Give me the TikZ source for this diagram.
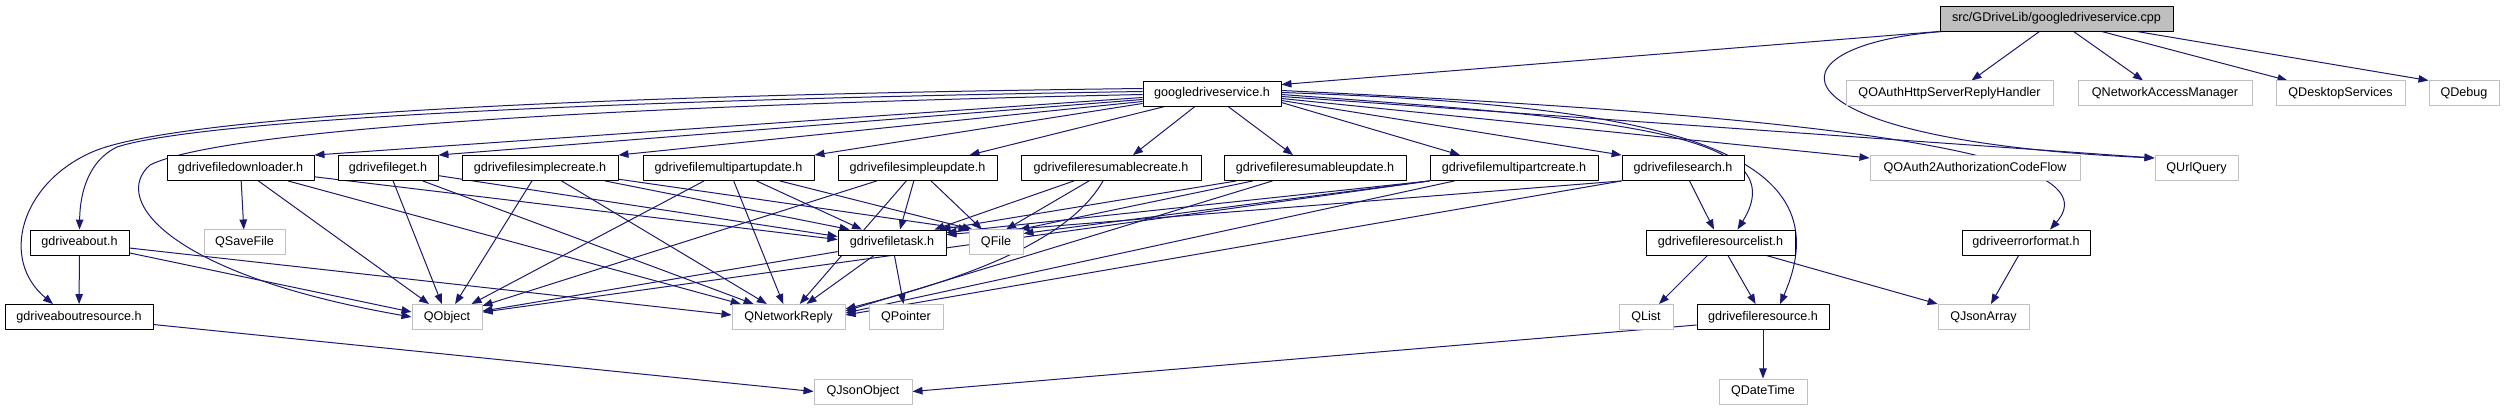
\documentclass[tikz,border=0pt]{standalone}
\usepackage{fontspec}
\setmainfont{Liberation Sans}
\usetikzlibrary{arrows.meta}
\definecolor{edgeblue}{RGB}{25,25,112}
\definecolor{boxgray}{RGB}{191,191,191}
\pgfdeclarelayer{edges}
\pgfsetlayers{edges,main}

\begin{document}
\begin{tikzpicture}[x=1pt, y=-1pt, line join=round,
  hdr/.style={draw=black, line width=0.9pt, fill=white, inner sep=0pt, minimum height=25pt, font=\fontsize{12.6}{15}\selectfont},
  ext/.style={hdr, draw=boxgray, line width=1pt},
  srcfile/.style={hdr, fill=boxgray},
  dep/.style={edgeblue, line width=1pt, -{Triangle[length=10pt,width=7.5pt]}}]

  %% ════ 第 0/1 行：源文件与直接包含 ════
  \node[srcfile, minimum width=233pt] (cpp) at (2056.5,18.5) {src/GDriveLib/googledriveservice.cpp};
  \node[hdr, minimum width=138pt] (gds) at (1212,93.5) {googledriveservice.h};
  \node[ext, minimum width=207pt] (qreplyhandler) at (1949.5,93.5) {QOAuthHttpServerReplyHandler};
  \node[ext, minimum width=174pt] (qnam) at (2165,93.5) {QNetworkAccessManager};
  \node[ext, minimum width=129pt] (qdesktop) at (2340.5,93.5) {QDesktopServices};
  \node[ext, minimum width=70pt] (qdebug) at (2464,93.5) {QDebug};

  %% ════ 第 2 行 ════
  \node[hdr, minimum width=147pt] (fdownloader) at (240.5,168) {gdrivefiledownloader.h};
  \node[hdr, minimum width=100pt] (fget) at (388,168) {gdrivefileget.h};
  \node[hdr, minimum width=156pt] (fscreate) at (540,168) {gdrivefilesimplecreate.h};
  \node[hdr, minimum width=171pt] (fmpupdate) at (728.5,168) {gdrivefilemultipartupdate.h};
  \node[hdr, minimum width=159pt] (fsupdate) at (917.5,168) {gdrivefilesimpleupdate.h};
  \node[hdr, minimum width=180pt] (frcreate) at (1111,168) {gdrivefileresumablecreate.h};
  \node[hdr, minimum width=182pt] (frupdate) at (1315,168) {gdrivefileresumableupdate.h};
  \node[hdr, minimum width=168pt] (fmpcreate) at (1514,168) {gdrivefilemultipartcreate.h};
  \node[hdr, minimum width=122pt] (fsearch) at (1683,168) {gdrivefilesearch.h};
  \node[ext, minimum width=210pt] (qoauthflow) at (1975,168) {QOAuth2AuthorizationCodeFlow};
  \node[ext, minimum width=83pt] (qurlquery) at (2196.5,168) {QUrlQuery};

  %% ════ 第 3 行 ════
  \node[hdr, minimum width=99pt] (about) at (79.5,242.5) {gdriveabout.h};
  \node[ext, minimum width=81pt] (qsavefile) at (244.5,242.5) {QSaveFile};
  \node[hdr, minimum width=108pt] (ftask) at (892,242.5) {gdrivefiletask.h};
  \node[ext, minimum width=54pt] (qfile) at (996,242.5) {QFile};
  \node[hdr, minimum width=149pt] (frlist) at (1720.5,242.5) {gdrivefileresourcelist.h};
  \node[hdr, minimum width=128pt] (errfmt) at (2026,242.5) {gdriveerrorformat.h};

  %% ════ 第 4/5 行 ════
  \node[hdr, minimum width=148pt] (aboutres) at (79,317) {gdriveaboutresource.h};
  \node[ext, minimum width=70pt] (qobject) at (447,317) {QObject};
  \node[ext, minimum width=113pt] (qnetreply) at (788.5,317) {QNetworkReply};
  \node[ext, minimum width=74pt] (qpointer) at (906,317) {QPointer};
  \node[ext, minimum width=54pt] (qlist) at (1646,317) {QList};
  \node[hdr, minimum width=132pt] (fres) at (1763,317) {gdrivefileresource.h};
  \node[ext, minimum width=91pt] (qjsonarray) at (1983.5,317) {QJsonArray};
  \node[ext, minimum width=98pt] (qjsonobject) at (863,391.5) {QJsonObject};
  \node[ext, minimum width=88pt] (qdatetime) at (1763,391.5) {QDateTime};

  %% 连线放在下层，框的白底压住穿过的线
  \begin{pgfonlayer}{edges}
  %% ════ 源文件的依赖 ════
  \draw[dep] (cpp.south west) -- ([yshift=-4pt]gds.north east);
  \draw[dep] ([xshift=-17pt]cpp.south) -- ([xshift=22pt]qreplyhandler.north);
  \draw[dep] ([xshift=17pt]cpp.south) -- ([xshift=-22pt]qnam.north);
  \draw[dep] ([xshift=45pt]cpp.south) -- ([xshift=-53pt]qdesktop.north);
  \draw[dep] ([xshift=80pt]cpp.south) -- (qdebug.north west);
  \draw[dep] ([xshift=4pt]cpp.south west) .. controls (1760,45) and (1760,140) .. ([yshift=10pt]qurlquery.west);

  %% ════ googledriveservice.h 的依赖（左侧三条绕行曲线）════
  \draw[dep] ([yshift=5pt]gds.west) .. controls (600,95) and (170,115) .. (90,153)
             .. controls (20,185) and (0,260) .. ([xshift=-26pt]aboutres.north);
  \draw[dep] ([yshift=2pt]gds.west) .. controls (600,100) and (200,120) .. (117,147)
             .. controls (90,160) and (80,190) .. (about.north);
  \draw[dep] ([yshift=-1pt]gds.west) .. controls (600,106) and (220,130) .. (150,165)
             .. controls (110,200) and (170,275) .. (qobject.west);
  \draw[dep] ([yshift=-4pt]gds.west) -- (fdownloader.north east);
  \draw[dep] ([yshift=-6pt]gds.west) -- (fget.north east);
  \draw[dep] ([yshift=-8pt]gds.west) -- (fscreate.north east);
  \draw[dep] ([yshift=-10pt]gds.west) -- (fmpupdate.north east);
  \draw[dep] ([xshift=-47pt]gds.south) -- ([xshift=52pt]fsupdate.north);
  \draw[dep] ([xshift=-17pt]gds.south) -- ([xshift=22pt]frcreate.north);
  \draw[dep] ([xshift=16pt]gds.south) -- ([xshift=-22pt]frupdate.north);
  \draw[dep] ([yshift=-9pt]gds.east) -- ([xshift=-54pt]fmpcreate.north);
  \draw[dep] ([yshift=-7pt]gds.east) -- (fsearch.north west);
  \draw[dep] ([yshift=-5pt]gds.east) -- ([yshift=10pt]qoauthflow.west);
  \draw[dep] ([yshift=-3pt]gds.east) -- ([yshift=10pt]qurlquery.west);
  \draw[dep] ([yshift=-1pt]gds.east) .. controls (1600,118) and (1800,130) .. ([xshift=17pt]frlist.north);
  \draw[dep] ([yshift=1pt]gds.east) .. controls (1650,105) and (1850,145) .. ([xshift=17pt]fres.north);
  \draw[dep] ([yshift=3pt]gds.east) .. controls (1800,115) and (2120,150) .. ([xshift=24pt]errfmt.north);

  %% ════ 第 2/3 行的依赖 ════
  \draw[dep] (about) -- (aboutres);
  \draw[dep] (about) -- ([yshift=5pt]qobject.west);
  \draw[dep] (about) -- ([yshift=2pt]qnetreply.west);
  \draw[dep] (aboutres) -- (qjsonobject.west);

  \draw[dep] (fdownloader) -- (qsavefile);
  \draw[dep] (fdownloader) -- ([yshift=3pt]ftask.west);
  \draw[dep] (fdownloader) -- (qobject);
  \draw[dep] (fdownloader) -- (qnetreply);

  \draw[dep] (fget) -- ([yshift=6pt]ftask.west);
  \draw[dep] (fget) -- (qobject);
  \draw[dep] (fget) -- (qnetreply);

  \draw[dep] (fscreate) -- ([xshift=12pt]ftask.north west);
  \draw[dep] (fscreate) -- (qfile.north west);
  \draw[dep] (fscreate) -- (qobject);
  \draw[dep] (fscreate) -- (qnetreply);

  \draw[dep] (fmpupdate) -- ([xshift=-30pt]ftask.north);
  \draw[dep] (fmpupdate) -- ([xshift=4pt]qfile.north west);
  \draw[dep] (fmpupdate) -- (qobject);
  \draw[dep] (fmpupdate) -- (qnetreply);

  \draw[dep] (fsupdate) -- ([xshift=8pt]ftask.north);
  \draw[dep] (fsupdate) -- ([xshift=-14pt]qfile.north);
  \draw[dep] (fsupdate) -- (qobject);
  \draw[dep] (fsupdate) -- (qnetreply);

  \draw[dep] (frcreate) -- ([xshift=-12pt]ftask.north east);
  \draw[dep] (frcreate) -- ([xshift=10pt]qfile.north);
  \draw[dep] ([xshift=-8pt]frcreate.south) .. controls (1075,230) and (1000,270) .. ([yshift=8pt]qnetreply.east);

  \draw[dep] (frupdate) -- ([xshift=-6pt]ftask.north east);
  \draw[dep] (frupdate) -- ([xshift=-4pt]qfile.north east);
  \draw[dep] (frupdate) -- ([yshift=6pt]qnetreply.east);

  \draw[dep] (fmpcreate.south west) -- ([yshift=-3pt]ftask.north east);
  \draw[dep] (fmpcreate.south west) -- ([yshift=-4pt]qfile.north east);
  \draw[dep] (fmpcreate.south west) -- (qobject);
  \draw[dep] (fmpcreate) -- ([yshift=4pt]qnetreply.east);

  \draw[dep] (fsearch.south west) -- ([yshift=-5pt]ftask.north east);
  \draw[dep] (fsearch.south west) -- ([yshift=2pt]qnetreply.east);
  \draw[dep] (fsearch) -- (frlist);

  \draw[dep] (ftask) -- (qobject);
  \draw[dep] (ftask) -- (qnetreply);
  \draw[dep] (ftask) -- (qpointer);

  \draw[dep] (frlist) -- (qlist);
  \draw[dep] (frlist) -- (fres);
  \draw[dep] (frlist) -- (qjsonarray);
  \draw[dep] (errfmt) -- (qjsonarray);
  \draw[dep] ([yshift=-8pt]fres.west) -- (qjsonobject.east);
  \draw[dep] (fres) -- (qdatetime);
  \end{pgfonlayer}

  % 钉死画布：与参考图 1:1
  \pgfresetboundingbox
  \path[use as bounding box] (0,0) rectangle (2505,411);
\end{tikzpicture}
\end{document}
